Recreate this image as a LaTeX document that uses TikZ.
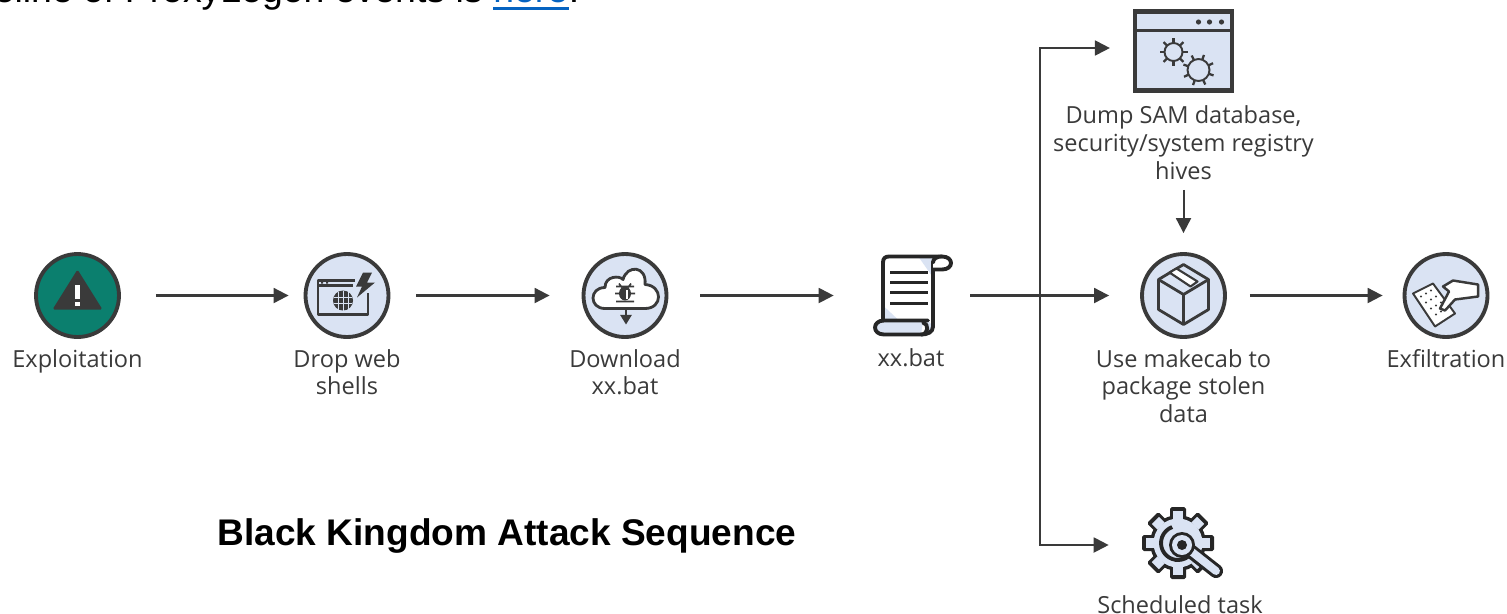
\documentclass[tikz,border=0pt]{standalone}
\usepackage{fontspec}
\setmainfont{Open Sans}
\newfontfamily\arialfont{Liberation Sans}
\usepackage{tikz}
\usetikzlibrary{arrows.meta, positioning}
\definecolor{RingGray}{HTML}{3A3A3A}
\definecolor{IconIce}{HTML}{DAE3F3}
\definecolor{AlertTeal}{HTML}{0B7F6E}
\definecolor{LinkBlue}{HTML}{0563C1}
\tikzset{
  iconring/.style={circle, draw=RingGray, fill=IconIce, line width=2.2pt, minimum size=1.66cm},
  iconbare/.style={rectangle, minimum width=1.64cm, minimum height=1.64cm},
  windowbox/.style={rectangle, draw=RingGray, fill=IconIce, line width=2.4pt, minimum width=1.94cm, minimum height=1.58cm},
  steplabel/.style={font=\fontsize{13.4}{15.8}\selectfont, text=RingGray, align=center, inner sep=0pt},
  flowarrow/.style={-{Stealth[length=8.5pt,width=8.5pt,inset=0pt]}, line width=1.15pt, RingGray},
  iconline/.style={draw=RingGray, line width=1.6pt, line join=round},
  darkline/.style={draw=black!85, line width=2.2pt, line cap=round, line join=round},
  pagetext/.style={font=\arialfont\fontsize{21.3}{25}\selectfont, inner sep=0pt}
}
\begin{document}
\begin{tikzpicture}[x=0.02cm, y=-0.02cm]
  \useasboundingbox (0,0) rectangle (1507,613);
  \clip (0,0) rectangle (1507,613);

  % cut-off line of the page above
  \node[pagetext, text=LinkBlue, anchor=base west] (link) at (493,2) {here};
  \node[pagetext, anchor=base east] (intro) at ([xshift=-0.2cm]link.base west) {timeline of ProxyLogon events is};
  \node[pagetext, anchor=base west] (stop) at (link.base east) {.};
  \draw[LinkBlue, line width=1.9pt] ([yshift=-0.13cm]link.base west) -- ([yshift=-0.13cm]link.base east);

  \node[font=\arialfont\bfseries\fontsize{21.1}{25}\selectfont, inner sep=0pt] (title) at (507,536) {Black Kingdom Attack Sequence};

  % icons
  \node[iconring, fill=AlertTeal] (exploit) at (77.5,295.5) {};
  \node[iconring] (drop) at (347,295.5) {};
  \node[iconring] (fetch) at (625,295.5) {};
  \node[iconbare] (bat) at (911,295.5) {};
  \node[iconring] (pack) at (1183.5,295.5) {};
  \node[iconring] (exfil) at (1446,295.5) {};
  \node[windowbox] (dump) at (1183.5,51) {};
  \node[iconbare] (task) at (1180,545) {};

  % labels
  \node[steplabel, below=0.2cm of exploit] (exploitlabel) {Exploitation};
  \node[steplabel, below=0.2cm of drop] (droplabel) {Drop web\\shells};
  \node[steplabel, below=0.2cm of fetch] (fetchlabel) {Download\\xx.bat};
  \node[steplabel, below=0.22cm of bat] (batlabel) {xx.bat};
  \node[steplabel, below=0.2cm of pack] (packlabel) {Use makecab to\\package stolen\\data};
  \node[steplabel, below=0.2cm of exfil] (exfillabel) {Exfiltration};
  \node[steplabel, below=0.26cm of dump] (dumplabel) {Dump SAM database,\\security/system registry\\hives};
  \node[steplabel, below=0.18cm of task] (tasklabel) {Scheduled task};

  % connectors
  \coordinate (trunk) at (1040,295.5);
  \draw[flowarrow, shorten <=0.7cm, shorten >=0.3cm] (exploit) -- (drop);
  \draw[flowarrow, shorten <=0.52cm, shorten >=0.64cm] (drop) -- (fetch);
  \draw[flowarrow, shorten <=0.64cm, shorten >=0.72cm] (fetch) -- (bat);
  \draw[flowarrow, shorten <=0.36cm, shorten >=0.62cm] (bat) -- (pack);
  \draw[flowarrow, shorten <=0.46cm, shorten >=0.4cm] (pack) -- (exfil);
  \draw[flowarrow, shorten >=0.46cm] (trunk) |- ([yshift=0.06cm]dump.west);
  \draw[flowarrow, shorten >=0.6cm] (trunk) |- (task.west);
  \draw[flowarrow, shorten <=0.2cm, shorten >=0.38cm] (dumplabel) -- (pack);

  % exploitation: warning sign
  \begin{scope}[shift={(exploit)}]
    \fill[RingGray, rounded corners=1pt] (0,-26) -- (25,14) -- (-25,14) -- cycle;
    \fill[white] (-2.5,-11) rectangle (2.5,3);
    \fill[white] (-2.5,6) rectangle (2.5,10);
  \end{scope}

  % drop web shells: browser, globe, bolt
  \begin{scope}[shift={(drop)}]
    \draw[iconline] (8,-15) -- (-29,-15) -- (-29,19) -- (21,19) -- (21,-3);
    \draw[iconline] (-29,-10) -- (6,-10);
    \fill[RingGray] (-26,-14) rectangle (-24,-12) (-21,-14) rectangle (-19,-12);
    \fill[RingGray] (-4,5) circle (10);
    \draw[IconIce, line width=0.4pt] (-13,2) -- (5,2) (-13,8) -- (5,8) (-9,-4) -- (-9,14) (-4,-5) -- (-4,15) (1,-4) -- (1,14);
    \fill[RingGray] (16,-23) -- (25,-23) -- (20,-13) -- (28,-13) -- (10,2) -- (15,-9) -- (9,-9) -- cycle;
  \end{scope}

  % download: cloud, bug, arrow
  \begin{scope}[shift={(fetch)}]
    \draw[iconline, fill=white] (-20,13) .. controls (-36,13) and (-36,-8) .. (-20,-8)
      .. controls (-20,-20) and (-5,-20) .. (-2,-16) .. controls (2,-31) and (22,-30) .. (20,-11)
      .. controls (38,-10) and (38,13) .. (20,13) -- cycle;
    \draw[RingGray, line width=0.9pt] (-9,-9) -- (9,-9) (-10,-2) -- (10,-2) (-9,6) -- (9,6) (-6,-12) -- (-3,-8) (6,-12) -- (3,-8);
    \fill[RingGray] (0,-2) ellipse (6 and 7);
    \fill[white] (1,-6) rectangle (3,3);
    \draw[flowarrow, line width=0.9pt, -{Stealth[length=5.5pt,width=6.5pt,inset=0pt]}] (1,13) -- (1,29);
  \end{scope}

  % xx.bat: scroll
  \begin{scope}[shift={(bat)}]
    \fill[white] (-28,-39) -- (34,-39) -- (22,-25) -- (22,33) -- (-28,33) -- cycle;
    \fill[IconIce] (-28,25) -- (-28,10) -- (-12,25) -- cycle;
    \fill[IconIce] (22,-38) -- (8,-38) -- (22,-18) -- cycle;
    \draw[darkline] (-28,26) -- (-28,-33) .. controls (-28,-37) and (-26,-39) .. (-22,-39) -- (31,-39);
    \draw[darkline, fill=IconIce] (22,31) .. controls (22,37) and (16,39) .. (10,39) -- (-27,39)
      .. controls (-39,39) and (-39,25) .. (-27,25) -- (17,25);
    \draw[darkline] (22,-33) -- (22,31);
    \draw[darkline, fill=white] (22,-26) -- (31,-26) .. controls (43,-26) and (43,-39) .. (31,-39) .. controls (26,-39) and (22,-37) .. (22,-33);
    \draw[darkline, fill=white] (10,39) .. controls (18,39) and (18,28) .. (12,27);
    \draw[draw=black!85, line width=1.7pt] (-21,-23) -- (17,-23) (-21,-13) -- (17,-13) (-21,-3) -- (17,-3) (-21,8) -- (17,8);
  \end{scope}

  % dump: small gears in the window
  \draw[RingGray, line width=1.4pt] ([yshift=-0.42cm]dump.north west) -- ([yshift=-0.42cm]dump.north east);
  \begin{scope}[shift={(dump)}]
    \foreach \dotx in {15,26,38} \fill[RingGray] (\dotx,-29) circle (2.6);
    \foreach \spoke in {0,45,...,315} {
      \draw[RingGray, line width=1.3pt] (-10,1) ++(\spoke:9) -- ++(\spoke:5);
      \draw[RingGray, line width=1.3pt] (15,19) ++(\spoke+20:11) -- ++(\spoke+20:5);
    }
    \draw[RingGray, line width=1.1pt, fill=IconIce] (-10,1) circle (9);
    \draw[RingGray, line width=1.1pt, fill=IconIce] (15,19) circle (11);
  \end{scope}

  % makecab: box
  \begin{scope}[shift={(pack)}]
    \draw[iconline] (0,-31) -- (25,-16) -- (25,14) -- (0,29) -- (-25,14) -- (-25,-16) -- cycle;
    \draw[iconline] (-25,-16) -- (0,-1) -- (25,-16) (0,-1) -- (0,29);
    \draw[iconline, fill=white, line width=1.2pt] (-14,-23) -- (-7,-27) -- (14,-14) -- (7,-9) -- cycle;
  \end{scope}

  % exfiltration: hand and paper
  \begin{scope}[shift={(exfil)}]
    \draw[iconline, fill=white, line width=1.1pt] (-33,-2) -- (-13,-12) -- (9,18) -- (-11,31) -- cycle;
    \foreach \rowt in {0,1,2,3} \foreach \colt in {0,1,2}
      \fill[RingGray] (-25+\colt*5+\rowt*5,1-\colt*3+\rowt*6) circle (1.2);
    \draw[iconline, fill=white, line width=1.4pt] (32,-11) -- (7,-15) -- (-3,-9) -- (3,-4) -- (-6,13) -- (-1,15) -- (9,4) -- (32,1) -- cycle;
  \end{scope}

  % scheduled task: gear and wrench
  \begin{scope}[shift={(task)}, xshift=-0.04cm, yshift=0.04cm]
    \foreach \tooth in {0,45,...,315} \fill[black!85, rotate=\tooth, rounded corners=1pt] (-8,-36) rectangle (8,-24);
    \fill[black!85] (0,0) circle (28);
    \foreach \tooth in {0,45,...,315} \fill[IconIce, rotate=\tooth] (-5,-32) rectangle (5,-24);
    \fill[IconIce] (0,0) circle (24.5);
    \draw[black!85, line width=2.2pt] (20:17) arc (20:250:17);
    \draw[black!85, line width=8pt, line cap=round] (10,6) -- (38,28);
    \draw[IconIce, line width=4.5pt, line cap=round] (14,9) -- (38,28);
    \fill[black!85] (4,2) circle (13);
    \fill[IconIce] (4,2) circle (10);
    \fill[black!85] (4,2) circle (5);
  \end{scope}
\end{tikzpicture}
\end{document}
